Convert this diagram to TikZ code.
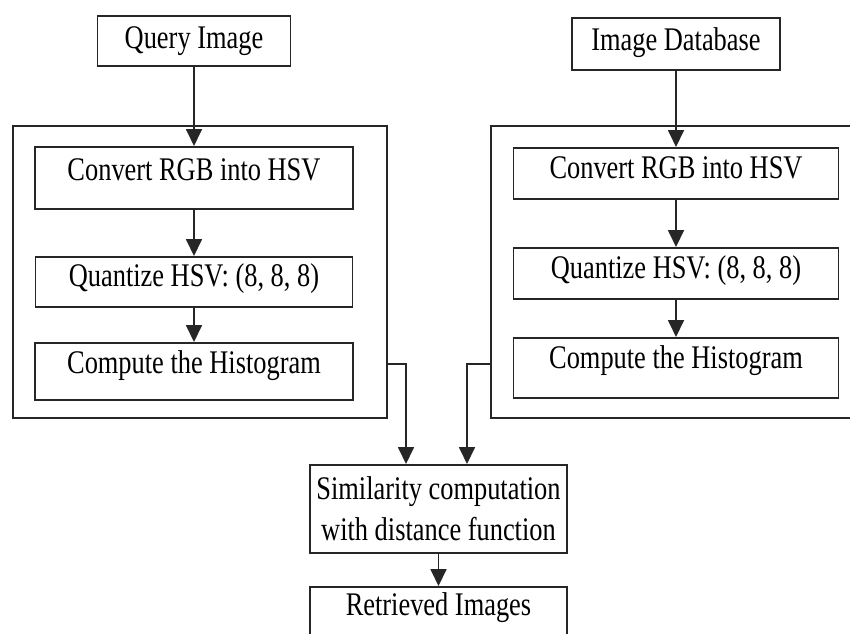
\documentclass[tikz,border=0pt]{standalone}
\usepackage{fontspec}
\setmainfont[FakeStretch=0.8]{Liberation Serif}
\usetikzlibrary{arrows.meta}
\begin{document}
\begin{tikzpicture}[x=1pt,y=-1pt,
  box/.style={draw=black!85, line width=1.8pt, inner sep=0pt, font=\fontsize{33}{41}\selectfont},
  arr/.style={draw=black!85, line width=1.8pt, -{Triangle[length=17pt,width=16pt]}}]
\clip (0,0) rectangle (850,633);
\fill[white] (0,0) rectangle (850,633);
% outer frames
\node[box, minimum width=374pt, minimum height=292pt, anchor=north west] (Lout) at (12,125) {};
\node[box, minimum width=390pt, minimum height=292pt, anchor=north west] (Rout) at (490,125) {};
% left column
\node[box, minimum width=193pt, text height=33pt, text depth=17pt, anchor=north] (q) at (194,15) {Query Image};
\node[box, minimum width=318pt, text height=34pt, text depth=28pt, anchor=north] (lc) at (194,146) {Convert RGB into HSV};
\node[box, minimum width=317pt, text height=30pt, text depth=20pt, anchor=north] (lq) at (194,256) {Quantize HSV: (8, 8, 8)};
\node[box, minimum width=318pt, text height=31pt, text depth=26pt, anchor=north] (lh) at (194,342) {Compute the Histogram};
% right column
\node[box, minimum width=208pt, text height=33pt, text depth=19pt, anchor=north] (db) at (676,17) {Image Database};
\node[box, minimum width=325pt, text height=31pt, text depth=20pt, anchor=north] (rc) at (676,147) {Convert RGB into HSV};
\node[box, minimum width=325pt, text height=31pt, text depth=20pt, anchor=north] (rq) at (676,247) {Quantize HSV: (8, 8, 8)};
\node[box, minimum width=325pt, text height=31pt, text depth=29pt, anchor=north] (rh) at (676,337) {Compute the Histogram};
% bottom
\node[box, minimum width=257pt, minimum height=88pt, align=center, anchor=north] (sim) at (438.5,464) {Similarity computation\\with distance function};
\node[box, minimum width=257pt, text height=29pt, text depth=60pt, anchor=north] (ret) at (438.5,586) {Retrieved Images};
% connectors
\draw[arr] (q.south) -- (lc.north);
\draw[arr] (lc.south) -- (lq.north);
\draw[arr] (lq.south) -- (lh.north);
\draw[arr] (db.south) -- (rc.north);
\draw[arr] (rc.south) -- (rq.north);
\draw[arr] (rq.south) -- (rh.north);
\coordinate (ljoin) at (406,364);
\coordinate (rjoin) at (467,364);
\draw[arr] (Lout.east |- ljoin) -| (sim.north -| ljoin);
\draw[arr] (Rout.west |- rjoin) -| (sim.north -| rjoin);
\draw[arr] (sim.south) -- (ret.north);
\end{tikzpicture}
\end{document}
